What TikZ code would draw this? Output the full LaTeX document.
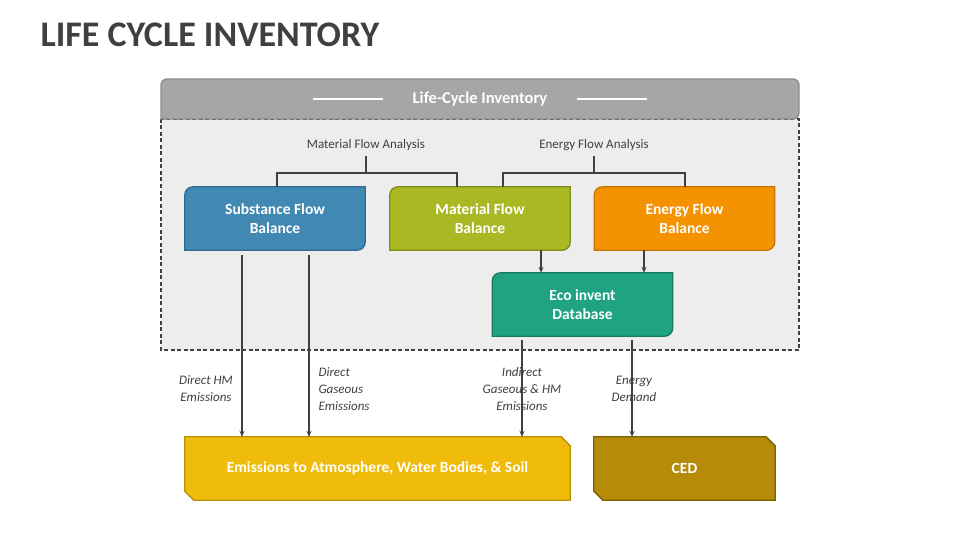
\documentclass[tikz,border=0pt]{standalone}
\usepackage{fontspec}
\setmainfont{Carlito}
\usetikzlibrary{positioning,backgrounds,arrows.meta}

% box with rounded top-left and bottom-right corners
\newcommand\tlbrbox[3]{%
  \begin{scope}[on background layer]
    \draw[#2,fill=#3,line width=1.3pt] ([yshift=-8pt]#1.north west) arc[start angle=180,end angle=90,radius=8pt]
      -- (#1.north east) -- ([yshift=8pt]#1.south east) arc[start angle=0,end angle=-90,radius=8pt]
      -- (#1.south west) -- cycle;
  \end{scope}}
% box with cut top-right and bottom-left corners
\newcommand\cutbox[3]{%
  \begin{scope}[on background layer]
    \draw[#2,fill=#3,line width=1.3pt] (#1.north west) -- ([xshift=-9pt]#1.north east) -- ([yshift=-9pt]#1.north east)
      -- (#1.south east) -- ([xshift=9pt]#1.south west) -- ([yshift=9pt]#1.south west) -- cycle;
  \end{scope}}

\definecolor{sfbfill}{HTML}{4189B3}\definecolor{sfbline}{HTML}{2E6A8E}
\definecolor{mfbfill}{HTML}{A9B823}\definecolor{mfbline}{HTML}{7F8A1A}
\definecolor{efbfill}{HTML}{F59200}\definecolor{efbline}{HTML}{C87500}
\definecolor{ecofill}{HTML}{1FA383}\definecolor{ecoline}{HTML}{167A61}
\definecolor{emifill}{HTML}{F0BC0C}\definecolor{emiline}{HTML}{B8900A}
\definecolor{cedfill}{HTML}{B58B08}\definecolor{cedline}{HTML}{7D6006}
\definecolor{txtgray}{HTML}{404040}

\begin{document}
\begin{tikzpicture}[
    x=1pt, y=1pt,
    box/.style={
        minimum width=180pt,
        minimum height=63pt,
        inner sep=0pt,
        align=center,
        text=white,
        font=\bfseries\fontsize{15.5}{19}\selectfont
    },
    lbl/.style={
        align=center,
        text=txtgray,
        font=\itshape\fontsize{13}{17}\selectfont
    },
    brace/.style={draw=txtgray, line width=1.3pt},
    arr/.style={-{Stealth[length=6pt,width=5pt]}, draw=txtgray, line width=1.3pt}
]
    \useasboundingbox (0,0) rectangle (960,-540);

    % title
    \node[anchor=west, text=txtgray, font=\bfseries\fontsize{36}{40}\selectfont] (title) at (37,-35) {LIFE CYCLE INVENTORY};

    % header bar and panel
    \begin{scope}[on background layer]
        \draw[fill=black!7, dash pattern=on 4pt off 2.5pt, line width=1.3pt, draw=txtgray] (161,-119) rectangle (799,-350);
        \draw[fill=black!35, draw=black!45, line width=1.3pt, rounded corners=6pt] (161,-119) -- (161,-79) -- (799,-79) -- (799,-119) [sharp corners] -- cycle;
    \end{scope}
    \node[text=white, font=\bfseries\fontsize{16.5}{18}\selectfont] (head) at (480,-99) {Life-Cycle Inventory};
    \draw[white, line width=1.5pt] ([xshift=-26pt]head.west) -- ++(-70,0);
    \draw[white, line width=1.5pt] ([xshift=26pt]head.east) -- ++(70,0);

    % analysis labels
    \node[text=txtgray, font=\fontsize{13}{15}\selectfont] (mfa) at (366,-145) {Material Flow Analysis};
    \node[text=txtgray, font=\fontsize{13}{15}\selectfont] (efa) at (594,-145) {Energy Flow Analysis};

    % boxes
    \node[box] (sfb) at (275,-218.5) {Substance Flow\\Balance};
    \node[box] (mfb) at (480,-218.5) {Material Flow\\Balance};
    \node[box] (efb) at (684.5,-218.5) {Energy Flow\\Balance};
    \node[box] (eco) at (582.5,-304.5) {Eco invent\\Database};
    \node[box, minimum width=385pt] (emi) at (377.5,-468.5) {Emissions to Atmosphere, Water Bodies, \& Soil};
    \node[box, minimum width=181pt] (ced) at (684.5,-468.5) {CED};
    \tlbrbox{sfb}{sfbline}{sfbfill}
    \tlbrbox{mfb}{mfbline}{mfbfill}
    \tlbrbox{efb}{efbline}{efbfill}
    \tlbrbox{eco}{ecoline}{ecofill}
    \cutbox{emi}{emiline}{emifill}
    \cutbox{ced}{cedline}{cedfill}

    % braces
    \coordinate (mfl) at (277,-173);
    \coordinate (mfr) at (457,-173);
    \coordinate (efl) at (503,-173);
    \coordinate (efr) at (685,-173);
    \draw[brace] (sfb.north -| mfl) -- (mfl) -- (mfr) -- (mfb.north -| mfr);
    \draw[brace] (mfa.south |- mfl) -- ([yshift=-2pt]mfa.south);
    \draw[brace] (mfb.north -| efl) -- (efl) -- (efr) -- (efb.north -| efr);
    \draw[brace] (efa.south |- efl) -- ([yshift=-2pt]efa.south);

    % connectors
    \draw[arr] (mfb.south -| 541,0) -- (eco.north -| 541,0);
    \draw[arr] (efb.south -| 644,0) -- (eco.north -| 644,0);
    \draw[arr, shorten <=5pt] (sfb.south -| 242,0) -- (emi.north -| 242,0);
    \draw[arr, shorten <=5pt] (sfb.south -| 309,0) -- (emi.north -| 309,0);
    \draw[arr, shorten <=4pt] (eco.south -| 522,0) -- (emi.north -| 522,0);
    \draw[arr, shorten <=4pt] (eco.south -| 632,0) -- (ced.north -| 632,0);

    % connector labels
    \node[lbl] (dhm) at (206,-389) {Direct HM\\Emissions};
    \node[lbl, align=left, anchor=west] (dge) at (315,-389) {Direct\\Gaseous\\Emissions};
    \node[lbl] (ige) at (522,-389) {Indirect\\Gaseous \& HM\\Emissions};
    \node[lbl] (ed) at (634,-389) {Energy\\Demand};
\end{tikzpicture}
\end{document}
